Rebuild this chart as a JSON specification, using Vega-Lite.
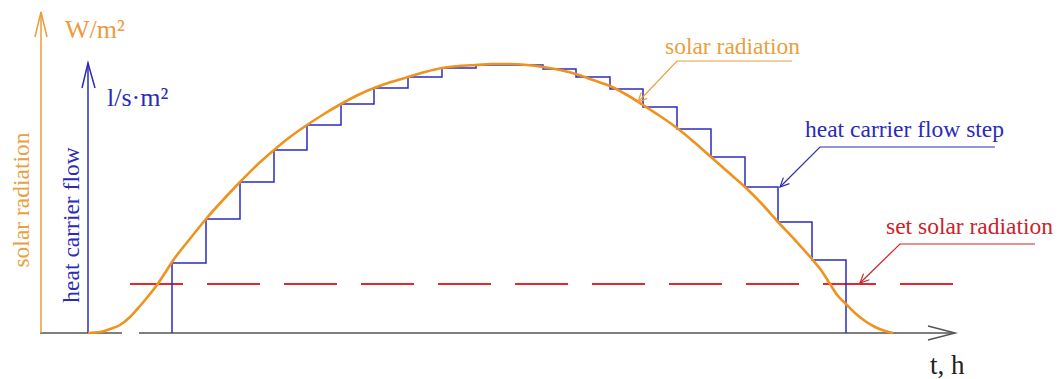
{
  "$schema": "https://vega.github.io/schema/vega-lite/v6.json",
  "width": 1058,
  "height": 379,
  "autosize": {"type": "fit", "contains": "padding"},
  "padding": 0,
  "background": "white",
  "config": {"view": {"stroke": null}},
  "datasets": {
    "taxis": [
      {"seg": "a", "x": 40, "y": 333}, {"seg": "a", "x": 122, "y": 333},
      {"seg": "b", "x": 139, "y": 333}, {"seg": "b", "x": 955, "y": 333},
      {"seg": "c", "x": 928, "y": 326}, {"seg": "c", "x": 955, "y": 333}, {"seg": "c", "x": 928, "y": 340}
    ],
    "waxis": [
      {"seg": "a", "x": 41, "y": 333}, {"seg": "a", "x": 41, "y": 12},
      {"seg": "b", "x": 35, "y": 37}, {"seg": "b", "x": 41, "y": 12}, {"seg": "b", "x": 47, "y": 37}
    ],
    "faxis": [
      {"seg": "a", "x": 88, "y": 333}, {"seg": "a", "x": 88, "y": 63},
      {"seg": "b", "x": 82, "y": 88}, {"seg": "b", "x": 88, "y": 63}, {"seg": "b", "x": 95, "y": 88}
    ],
    "radiation": [
      {"x": 88, "y": 333}, {"x": 100, "y": 332}, {"x": 110, "y": 329}, {"x": 120, "y": 325},
      {"x": 130, "y": 317}, {"x": 140, "y": 306}, {"x": 150, "y": 294}, {"x": 157, "y": 285},
      {"x": 165, "y": 273}, {"x": 172, "y": 262}, {"x": 189, "y": 240}, {"x": 206, "y": 219},
      {"x": 223, "y": 200}, {"x": 240, "y": 182}, {"x": 257, "y": 165}, {"x": 274, "y": 150},
      {"x": 290, "y": 137}, {"x": 307, "y": 125}, {"x": 324, "y": 114}, {"x": 341, "y": 104},
      {"x": 358, "y": 95}, {"x": 374, "y": 88}, {"x": 391, "y": 82}, {"x": 408, "y": 77},
      {"x": 425, "y": 72}, {"x": 442, "y": 68}, {"x": 459, "y": 66}, {"x": 476, "y": 65},
      {"x": 493, "y": 64}, {"x": 510, "y": 64}, {"x": 527, "y": 65}, {"x": 543, "y": 67},
      {"x": 560, "y": 70}, {"x": 576, "y": 74}, {"x": 593, "y": 80}, {"x": 610, "y": 86},
      {"x": 627, "y": 95}, {"x": 643, "y": 105}, {"x": 660, "y": 116}, {"x": 677, "y": 128},
      {"x": 694, "y": 142}, {"x": 711, "y": 157}, {"x": 728, "y": 172}, {"x": 745, "y": 187},
      {"x": 762, "y": 204}, {"x": 778, "y": 222}, {"x": 795, "y": 240}, {"x": 812, "y": 259},
      {"x": 821, "y": 270}, {"x": 830, "y": 284}, {"x": 838, "y": 296}, {"x": 846, "y": 304},
      {"x": 855, "y": 313}, {"x": 865, "y": 321}, {"x": 875, "y": 327}, {"x": 885, "y": 331},
      {"x": 893, "y": 333}
    ],
    "flow": [
      {"x": 172, "y": 333}, {"x": 172, "y": 263}, {"x": 206, "y": 219}, {"x": 240, "y": 182},
      {"x": 274, "y": 150}, {"x": 307, "y": 125}, {"x": 341, "y": 104}, {"x": 374, "y": 88},
      {"x": 408, "y": 77}, {"x": 442, "y": 68}, {"x": 476, "y": 65}, {"x": 543, "y": 69},
      {"x": 576, "y": 77}, {"x": 610, "y": 89}, {"x": 643, "y": 107}, {"x": 677, "y": 129},
      {"x": 711, "y": 157}, {"x": 745, "y": 187}, {"x": 778, "y": 222}, {"x": 812, "y": 260},
      {"x": 846, "y": 333}
    ],
    "setpoint": [{"x": 130, "y": 284}, {"x": 957, "y": 284}],
    "lead_orange": [
      {"seg": "a", "x": 792, "y": 61}, {"seg": "a", "x": 677, "y": 61}, {"seg": "a", "x": 638, "y": 102},
      {"seg": "b", "x": 647.3, "y": 98.4}, {"seg": "b", "x": 638, "y": 102}, {"seg": "b", "x": 641.2, "y": 92.5}
    ],
    "lead_blue": [
      {"seg": "a", "x": 995, "y": 147}, {"seg": "a", "x": 820, "y": 147}, {"seg": "a", "x": 780, "y": 187},
      {"seg": "b", "x": 789.4, "y": 183.6}, {"seg": "b", "x": 780, "y": 187}, {"seg": "b", "x": 783.4, "y": 177.6}
    ],
    "lead_red": [
      {"seg": "a", "x": 1035, "y": 244}, {"seg": "a", "x": 900, "y": 244}, {"seg": "a", "x": 860, "y": 283},
      {"seg": "b", "x": 869.4, "y": 279.7}, {"seg": "b", "x": 860, "y": 283}, {"seg": "b", "x": 863.5, "y": 273.6}
    ]
  },
  "encoding": {
    "x": {"field": "x", "type": "quantitative", "scale": {"domain": [0, 1058], "nice": false, "zero": false}, "axis": null},
    "y": {"field": "y", "type": "quantitative", "scale": {"domain": [0, 379], "reverse": true, "nice": false, "zero": false}, "axis": null}
  },
  "layer": [
    {
      "data": {"name": "taxis"},
      "mark": {"type": "line", "color": "#555555", "strokeWidth": 1.5},
      "encoding": {"detail": {"field": "seg"}, "order": {"value": null}}
    },
    {
      "data": {"name": "waxis"},
      "mark": {"type": "line", "color": "#EE9A3A", "strokeWidth": 1.5},
      "encoding": {"detail": {"field": "seg"}, "order": {"value": null}}
    },
    {
      "data": {"name": "faxis"},
      "mark": {"type": "line", "color": "#2B2BB8", "strokeWidth": 1.5},
      "encoding": {"detail": {"field": "seg"}, "order": {"value": null}}
    },
    {
      "data": {"name": "setpoint"},
      "mark": {"type": "line", "color": "#E5262A", "strokeWidth": 2, "strokeDash": [53, 24]},
      "encoding": {"order": {"value": null}}
    },
    {
      "data": {"name": "flow"},
      "mark": {"type": "line", "color": "#2B2BC0", "strokeWidth": 1.5, "interpolate": "step-after"},
      "encoding": {"order": {"value": null}}
    },
    {
      "data": {"name": "radiation"},
      "mark": {"type": "line", "color": "#EE931E", "strokeWidth": 2.6, "interpolate": "monotone"},
      "encoding": {"order": {"value": null}}
    },
    {
      "data": {"name": "lead_orange"},
      "mark": {"type": "line", "color": "#E8A040", "strokeWidth": 1.2},
      "encoding": {"detail": {"field": "seg"}, "order": {"value": null}}
    },
    {
      "data": {"name": "lead_blue"},
      "mark": {"type": "line", "color": "#2B2BB8", "strokeWidth": 1.2},
      "encoding": {"detail": {"field": "seg"}, "order": {"value": null}}
    },
    {
      "data": {"name": "lead_red"},
      "mark": {"type": "line", "color": "#CC2229", "strokeWidth": 1.2},
      "encoding": {"detail": {"field": "seg"}, "order": {"value": null}}
    },
    {
      "data": {"values": [
        {"x": 65, "y": 38, "label": "W/m²"}
      ]},
      "mark": {"type": "text", "align": "left", "baseline": "alphabetic", "font": "Liberation Serif", "fontSize": 26, "color": "#EE9A3A"},
      "encoding": {"text": {"field": "label"}}
    },
    {
      "data": {"values": [
        {"x": 665, "y": 54, "label": "solar radiation"}
      ]},
      "mark": {"type": "text", "align": "left", "baseline": "alphabetic", "font": "Liberation Serif", "fontSize": 23.5, "color": "#E8A040"},
      "encoding": {"text": {"field": "label"}}
    },
    {
      "data": {"values": [
        {"x": 22, "y": 200, "label": "solar radiation"}
      ]},
      "mark": {"type": "text", "align": "center", "baseline": "middle", "angle": 270, "font": "Liberation Serif", "fontSize": 23.5, "color": "#E8A040"},
      "encoding": {"text": {"field": "label"}}
    },
    {
      "data": {"values": [
        {"x": 107, "y": 106, "label": "l/s·m²"}
      ]},
      "mark": {"type": "text", "align": "left", "baseline": "alphabetic", "font": "Liberation Serif", "fontSize": 26, "color": "#2B2BB8"},
      "encoding": {"text": {"field": "label"}}
    },
    {
      "data": {"values": [
        {"x": 805, "y": 137, "label": "heat carrier flow step"}
      ]},
      "mark": {"type": "text", "align": "left", "baseline": "alphabetic", "font": "Liberation Serif", "fontSize": 23.5, "color": "#2B2BB8"},
      "encoding": {"text": {"field": "label"}}
    },
    {
      "data": {"values": [
        {"x": 72, "y": 225, "label": "heat carrier flow"}
      ]},
      "mark": {"type": "text", "align": "center", "baseline": "middle", "angle": 270, "font": "Liberation Serif", "fontSize": 23.5, "color": "#2B2BB8"},
      "encoding": {"text": {"field": "label"}}
    },
    {
      "data": {"values": [
        {"x": 886, "y": 234, "label": "set solar radiation"}
      ]},
      "mark": {"type": "text", "align": "left", "baseline": "alphabetic", "font": "Liberation Serif", "fontSize": 23.5, "color": "#CC2229"},
      "encoding": {"text": {"field": "label"}}
    },
    {
      "data": {"values": [
        {"x": 930, "y": 374, "label": "t, h"}
      ]},
      "mark": {"type": "text", "align": "left", "baseline": "alphabetic", "font": "Liberation Serif", "fontSize": 27, "color": "#222222"},
      "encoding": {"text": {"field": "label"}}
    }
  ]
}
